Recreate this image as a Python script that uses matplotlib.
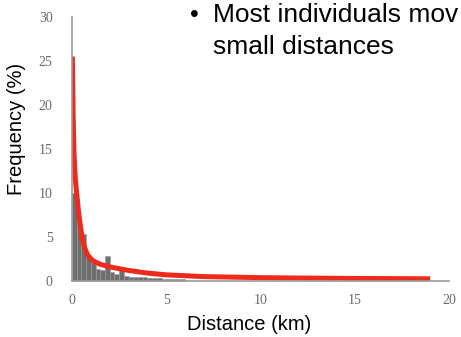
import numpy as np
import matplotlib
matplotlib.use('Agg')
import matplotlib.pyplot as plt

# histogram of movement distances (bin width 0.25 km)
bin_left = np.arange(0, 6.0, 0.25)
freq = [10.0, 7.0, 5.3, 3.0, 2.2, 1.4, 1.3, 2.8, 1.0, 0.8, 1.6, 0.6,
        0.5, 0.5, 0.4, 0.4, 0.35, 0.3, 0.3, 0.25, 0.25, 0.2, 0.2, 0.2]

# fitted curve
fit_x = [0.02, 0.06, 0.1, 0.15, 0.2, 0.27, 0.35, 0.45, 0.53, 0.65, 0.8, 0.95,
         1.2, 1.5, 2.0, 2.5, 3.0, 4.0, 5.0, 7.0, 10.0, 13.0, 16.0, 19.0]
fit_y = [25.5, 19.0, 15.0, 12.5, 11.0, 9.5, 7.8, 6.2, 5.0, 3.9, 3.1, 2.6,
         2.2, 1.9, 1.6, 1.4, 1.2, 0.9, 0.7, 0.5, 0.38, 0.32, 0.28, 0.25]

fig = plt.figure(figsize=(4.61, 3.37), dpi=100)
ax = fig.add_axes([72/461, 56/337, 377/461, 264/337])

ax.bar(bin_left, freq, width=0.25, align='edge', color='#6e6e6e',
       edgecolor='#9a9a9a', linewidth=0.4)
ax.plot(fit_x, fit_y, color='#ee2a1b', linewidth=3.6, solid_capstyle='butt')

ax.set_xlim(0, 20)
ax.set_ylim(0, 30)
ax.set_xticks([0, 5, 10, 15, 20])
ax.set_yticks([0, 5, 10, 15, 20, 25, 30])
for s in ['top', 'right']:
    ax.spines[s].set_visible(False)
for s in ['left', 'bottom']:
    ax.spines[s].set_color('#9a9a9a')
    ax.spines[s].set_linewidth(1.2)
ax.tick_params(length=0, colors='#6a6a6a', labelsize=10)
ax.tick_params(axis='x', pad=9)
ax.tick_params(axis='y', pad=14)
for lab in ax.get_xticklabels() + ax.get_yticklabels():
    lab.set_family('Liberation Serif')

fig.text(249/461, 1 - 324/337, 'Distance (km)', ha='center', va='center',
         fontsize=14.5, family='Liberation Sans')
fig.text(17/461, 1 - 129/337, 'Frequency (%)', ha='center', va='center',
         rotation=90, fontsize=14.5, family='Liberation Sans')

fig.text(190/461, 1 - 22/337, '\u2022', ha='left', va='baseline',
         fontsize=18, family='Liberation Sans')
fig.text(213/461, 1 - 22/337, 'Most individuals mov', ha='left', va='baseline',
         fontsize=19, family='Liberation Sans')
fig.text(213/461, 1 - 54/337, 'small distances', ha='left', va='baseline',
         fontsize=19, family='Liberation Sans')

fig.savefig('out.png', dpi=100)
